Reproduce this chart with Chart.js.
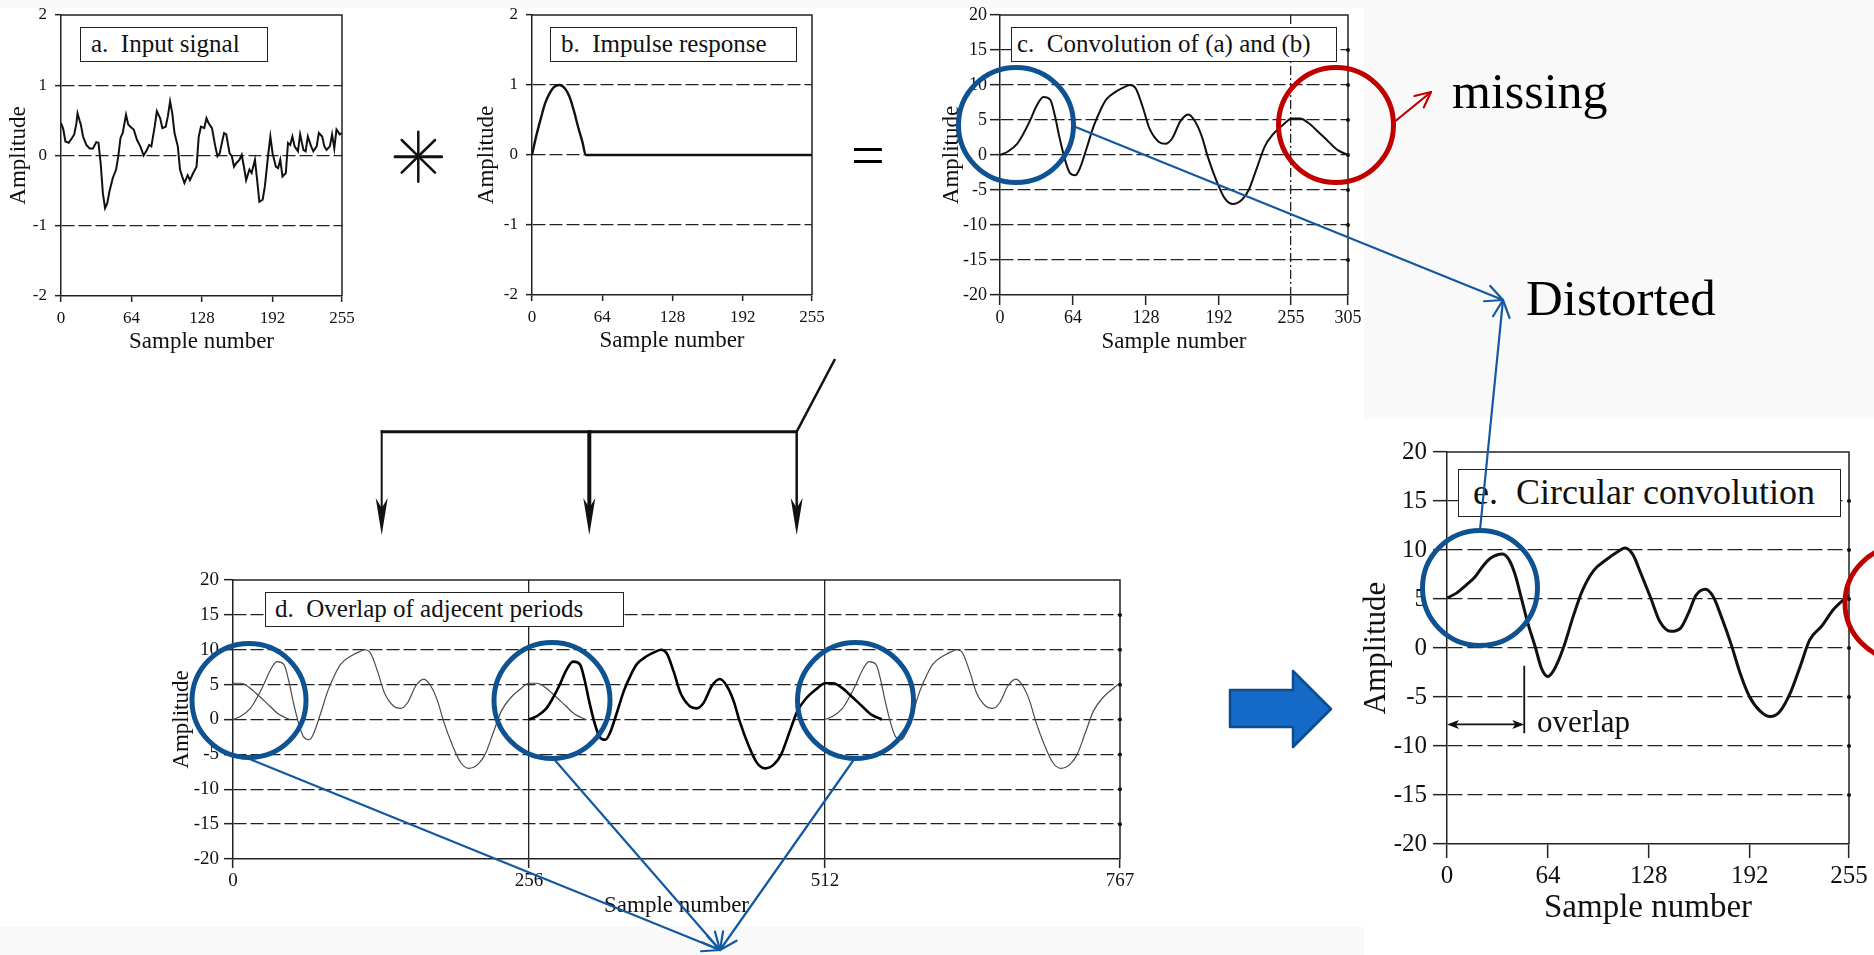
<!DOCTYPE html>
<html lang="en">
<head>
    <meta charset="UTF-8">
    <meta name="viewport" content="width=device-width, initial-scale=1.0">
    <title>Linear vs circular convolution</title>
    <style>
        body {
            margin: 0;
            background-color: #f9f9f9;
            font-family: "Liberation Serif", "Times New Roman", serif;
        }
        #page { position: relative; width: 1874px; height: 955px; overflow: hidden; }
        .sheet { position: absolute; background-color: #fff; }
        .panel { position: absolute; }
        .caption {
            position: absolute;
            box-sizing: border-box;
            border: 1.5px solid #222;
            background-color: #fff;
            white-space: pre;
            color: #111;
        }
        .note { position: absolute; white-space: pre; line-height: 1; color: #000; }
        #overlay { position: absolute; left: 0; top: 0; }
    </style>
    <script src="https://cdn.jsdelivr.net/npm/chart.js"></script>
</head>
<body>

<div id="page">
    <!-- white paper behind the figure and behind panel e -->
    <div class="sheet" style="left:0; top:8px; width:1364px; height:919px"></div>
    <div class="sheet" style="left:1364px; top:418px; width:510px; height:537px"></div>

    <div id="charts"></div>

    <!-- panel captions -->
    <div class="caption" style="left:80px; top:27px; width:188px; height:35px; line-height:32px; font-size:25px; padding-left:10px">a.  Input signal</div>
    <div class="caption" style="left:550px; top:27px; width:247px; height:35px; line-height:32px; font-size:25px; padding-left:10px">b.  Impulse response</div>
    <div class="caption" style="left:1011px; top:27px; width:326px; height:35px; line-height:32px; font-size:25px; padding-left:5px">c.  Convolution of (a) and (b)</div>
    <div class="caption" style="left:265px; top:592px; width:359px; height:35px; line-height:32px; font-size:25px; padding-left:9px">d.  Overlap of adjecent periods</div>
    <div class="caption" style="left:1458px; top:469px; width:383px; height:48px; line-height:45px; font-size:36px; padding-left:14px">e.  Circular convolution</div>

    <!-- free text -->
    <div class="note" style="left:851px; top:125px; font-size:60px">=</div>
    <div class="note" style="left:1452px; top:66px; font-size:50px">missing</div>
    <div class="note" style="left:1526px; top:273px; font-size:51px">Distorted</div>
    <div class="note" style="left:1537px; top:706px; font-size:31px; color:#111">overlap</div>

    <canvas id="overlay" width="1874" height="955"></canvas>
</div>

<script>
    // ---- values ----

    // a. input signal
    const inputX = [0, 2, 4, 7, 10, 12, 14, 15, 17, 18, 20, 23, 26, 29, 32, 34, 36, 38, 40, 42,
        44, 47, 50, 52, 54, 56, 59, 61, 63, 66, 69, 72, 75, 78, 80, 82, 85, 87, 90, 92,
        95, 97, 99, 101, 103, 106, 108, 110, 112, 115, 117, 120, 123, 125, 127, 130, 132, 134, 137, 140,
        142, 144, 146, 148, 150, 153, 155, 157, 159, 162, 164, 166, 168, 171, 173, 176, 178, 180, 183, 185,
        188, 190, 192, 195, 197, 199, 201, 204, 206, 208, 210, 212, 215, 217, 220, 222, 224, 227, 229, 232,
        234, 237, 239, 241, 244, 246, 248, 250, 253, 255];
    const inputY = [0.46, 0.38, 0.2, 0.18, 0.25, 0.3, 0.46, 0.6, 0.49, 0.44, 0.27, 0.15, 0.1, 0.1, 0.19, 0.18, -0.11, -0.54, -0.75, -0.68,
        -0.51, -0.32, -0.2, -0.01, 0.25, 0.32, 0.58, 0.44, 0.41, 0.37, 0.22, 0.13, 0, 0.08, 0.15, 0.13, 0.41, 0.63, 0.53, 0.39,
        0.41, 0.56, 0.77, 0.6, 0.32, 0.13, -0.2, -0.3, -0.39, -0.28, -0.35, -0.25, -0.16, 0.27, 0.41, 0.39, 0.53, 0.46, 0.39, 0.13,
        -0.01, 0.03, 0.18, 0.32, 0.3, 0.03, -0.01, -0.16, -0.11, -0.06, 0.01, -0.16, -0.35, -0.2, -0.25, -0.06, -0.35, -0.66, -0.63, -0.44,
        0.01, 0.27, 0.03, -0.16, -0.18, -0.06, -0.3, -0.25, 0.18, 0.15, 0.27, 0.13, 0.06, 0.3, 0.08, 0.06, 0.27, 0.13, 0.06, 0.13,
        0.32, 0.27, 0.13, 0.08, 0.13, 0.3, 0.1, 0.37, 0.3, 0.32];

    // b. impulse response
    const impulseX = [0, 4, 8, 12, 16, 20, 25, 30, 34, 38, 42, 46, 49, 255];
    const impulseY = [0, 0.28, 0.52, 0.74, 0.88, 0.97, 1.0, 0.95, 0.84, 0.64, 0.4, 0.18, 0, 0];

    // c. linear convolution (306 samples)
    const convX = [0, 7, 15, 20, 26, 32, 38, 44, 48, 52, 57, 61, 66, 70, 76, 82, 88, 93, 102, 109,
        114, 119, 125, 131, 139, 145, 151, 158, 165, 171, 177, 182, 190, 197, 204, 212, 218, 225, 232, 239,
        248, 256, 263, 270, 279, 288, 296, 305];
    const convY = [0, 0.5, 1.6, 2.9, 4.8, 7.0, 8.3, 7.9, 5.7, 2.6, -0.7, -2.5, -2.9, -1.9, 1.0, 4.1, 6.4, 7.9, 9.1, 9.7,
        10.0, 9.5, 6.9, 3.8, 1.9, 1.6, 2.4, 4.8, 5.8, 4.8, 2.6, -0.2, -3.8, -6.2, -7.0, -6.4, -5.0, -1.9, 1.2, 2.9,
        4.3, 5.2, 5.2, 4.6, 3.3, 1.9, 0.7, 0];

    // d. where the periods of (c) start; the one at 256 is drawn heavy
    const periodStarts = [-256, 0, 256, 512];
    const boldPeriod = 256;

    // e. circular convolution
    const circX = [0, 6, 12, 18, 23, 28, 35, 39, 43, 47, 51, 56, 60, 64, 68, 74, 80, 86, 93, 101,
        108, 113, 118, 123, 129, 135, 142, 148, 153, 158, 164, 169, 174, 180, 186, 192, 199, 205, 211, 218,
        224, 230, 238, 245, 255];
    const circY = [5.1, 5.6, 6.4, 7.3, 8.4, 9.2, 9.6, 9.1, 7.6, 5.2, 2.7, 0.1, -2.1, -2.9, -2.2, 0.1, 3.2, 5.9, 7.9, 9.0,
        9.8, 10.2, 9.5, 7.6, 5.2, 2.7, 1.7, 2.0, 3.5, 5.4, 6.0, 5.2, 3.2, 0.5, -2.6, -5.0, -6.5, -7.0, -6.5, -4.5,
        -1.9, 0.8, 2.3, 3.9, 5.4];

    // tick labels
    const ticks256 = [0, 64, 128, 192, 255];
    const ticksConv = [0, 64, 128, 192, 255, 305];
    const ticksPeriods = [0, 256, 512, 767];
    const convEndMark = [255];        // dash-dot line in (c)
    const periodMarks = [256, 512];   // solid lines in (d)

    // overlap bracket in (e), in data units
    const overlapSpan = [0, 49];
    const overlapArrowY = -7.8;
    const overlapTickY = [-1.8, -8.7];

    // ---- layout of each panel (page pixels of the plot area) ----
    const geo = {
        a: { left: 61, right: 342, top: 15, bottom: 296, yW: 56, xH: 60, padTop: 15, padRight: 18, tick: 6, yPad: 8, xPad: 6, tickFont: 17, xTitle: 23, yTitle: 23, dash: [13, 4] },
        b: { left: 532, right: 812, top: 15, bottom: 295, yW: 59, xH: 60, padTop: 15, padRight: 18, tick: 6, yPad: 8, xPad: 6, tickFont: 17, xTitle: 23, yTitle: 23, dash: [13, 4] },
        c: { left: 1000, right: 1348, top: 15, bottom: 295, yW: 62, xH: 61, padTop: 15, padRight: 18, tick: 10, yPad: 3, xPad: 2, tickFont: 18, xTitle: 23, yTitle: 23, dash: [13, 4], dots: true, xLines: convEndMark, xDash: [9, 3, 2, 3] },
        d: { left: 233, right: 1120, top: 580, bottom: 859, yW: 65, xH: 61, padTop: 15, padRight: 18, tick: 9, yPad: 5, xPad: 2, tickFont: 19, xTitle: 23, yTitle: 23, dash: [13, 4], dots: true, xLines: periodMarks },
        e: { left: 1447, right: 1849, top: 452, bottom: 844, yW: 89, xH: 84, padTop: 17, padRight: 24, tick: 14, yPad: 6, xPad: 3, tickFont: 25, xTitle: 33, yTitle: 31, dash: [15, 5], dots: true, overlap: true }
    };

    const serif = "'Liberation Serif', 'Times New Roman', serif";
    const ink = '#111';
    Chart.defaults.font.family = serif;
    Chart.defaults.color = ink;

    // top and right frame of each plot, with the small dots where grid lines end
    Chart.register({
        id: 'frame',
        afterDraw(chart, args, opts) {
            const { ctx, chartArea: a } = chart;
            ctx.save();
            ctx.strokeStyle = '#222';
            ctx.lineWidth = 1.5;
            ctx.beginPath();
            ctx.moveTo(a.left, a.top);
            ctx.lineTo(a.right, a.top);
            ctx.lineTo(a.right, a.bottom);
            ctx.stroke();
            if (opts.dots) {
                const y = chart.scales.y;
                ctx.fillStyle = '#111';
                y.ticks.forEach(t => {
                    if (t.value === y.min || t.value === y.max) return;
                    ctx.beginPath();
                    ctx.arc(a.right, y.getPixelForValue(t.value), 2, 0, Math.PI * 2);
                    ctx.fill();
                });
            }
            ctx.restore();
        }
    });

    // overlap bracket of panel e
    Chart.register({
        id: 'overlapMark',
        afterDatasetsDraw(chart, args, opts) {
            if (!opts.show) return;
            const { ctx } = chart;
            const x = chart.scales.x, y = chart.scales.y;
            const x0 = x.getPixelForValue(overlapSpan[0]);
            const x1 = x.getPixelForValue(overlapSpan[1]);
            const ya = y.getPixelForValue(overlapArrowY);
            ctx.save();
            ctx.strokeStyle = '#111';
            ctx.fillStyle = '#111';
            ctx.lineWidth = 1.8;
            ctx.beginPath();
            ctx.moveTo(x0 + 4, ya);
            ctx.lineTo(x1 - 4, ya);
            ctx.moveTo(x1, y.getPixelForValue(overlapTickY[0]));
            ctx.lineTo(x1, y.getPixelForValue(overlapTickY[1]));
            ctx.stroke();
            [[x0, 1], [x1, -1]].forEach(([px, dir]) => {
                ctx.beginPath();
                ctx.moveTo(px, ya);
                ctx.lineTo(px + dir * 12, ya - 4.5);
                ctx.lineTo(px + dir * 9, ya);
                ctx.lineTo(px + dir * 12, ya + 4.5);
                ctx.closePath();
                ctx.fill();
            });
            ctx.restore();
        }
    });

    function points(xs, ys, shift) {
        return xs.map((x, i) => ({ x: x + (shift || 0), y: ys[i] }));
    }

    function makePanel(key, datasets, xTicks, yMin, yMax, yStep) {
        const g = geo[key];
        const canvas = document.createElement('canvas');
        canvas.className = 'panel';
        canvas.width = g.yW + (g.right - g.left) + g.padRight;
        canvas.height = g.padTop + (g.bottom - g.top) + g.xH;
        canvas.style.left = (g.left - g.yW) + 'px';
        canvas.style.top = (g.top - g.padTop) + 'px';
        document.getElementById('charts').appendChild(canvas);

        return new Chart(canvas, {
            type: 'line',
            data: { datasets },
            options: {
                responsive: false,
                animation: false,
                events: [],
                layout: { padding: { top: g.padTop, right: g.padRight, left: 0, bottom: 0 } },
                elements: { point: { radius: 0 } },
                plugins: {
                    legend: { display: false },
                    tooltip: { enabled: false },
                    frame: { dots: !!g.dots },
                    overlapMark: { show: !!g.overlap }
                },
                scales: {
                    x: {
                        type: 'linear',
                        min: xTicks[0],
                        max: xTicks[xTicks.length - 1],
                        afterBuildTicks: s => { s.ticks = xTicks.map(v => ({ value: v })); },
                        afterFit: s => {
                            s.height = g.xH;
                            s.paddingLeft = 0;
                            s.paddingRight = 0;
                        },
                        grid: {
                            drawOnChartArea: !!g.xLines,
                            color: c => (g.xLines && c.tick && g.xLines.includes(c.tick.value)) ? '#222' : 'rgba(0,0,0,0)',
                            lineWidth: 1.3,
                            tickColor: '#222',
                            tickLength: g.tick,
                            tickWidth: 1.5
                        },
                        border: { color: '#222', width: 1.5, dash: g.xDash || [] },
                        ticks: {
                            autoSkip: false,
                            maxRotation: 0,
                            padding: g.xPad,
                            color: ink,
                            font: { family: serif, size: g.tickFont },
                            callback: v => String(v)
                        },
                        title: {
                            display: true,
                            text: 'Sample number',
                            color: ink,
                            padding: 0,
                            font: { family: serif, size: g.xTitle }
                        }
                    },
                    y: {
                        type: 'linear',
                        min: yMin,
                        max: yMax,
                        afterFit: s => {
                            s.width = g.yW;
                            s.paddingTop = 0;
                            s.paddingBottom = 0;
                        },
                        grid: {
                            color: c => (c.tick && (c.tick.value === yMin || c.tick.value === yMax)) ? 'rgba(0,0,0,0)' : '#222',
                            lineWidth: 1.3,
                            tickColor: '#222',
                            tickLength: g.tick,
                            tickWidth: 1.5
                        },
                        border: { color: '#222', width: 1.5, dash: g.dash },
                        ticks: {
                            stepSize: yStep,
                            padding: g.yPad,
                            color: ink,
                            font: { family: serif, size: g.tickFont },
                            callback: v => String(v)
                        },
                        title: {
                            display: true,
                            text: 'Amplitude',
                            color: ink,
                            padding: 0,
                            font: { family: serif, size: g.yTitle }
                        }
                    }
                }
            }
        });
    }

    makePanel('a', [{
        data: points(inputX, inputY),
        borderColor: '#111', borderWidth: 2, tension: 0
    }], ticks256, -2, 2, 1);

    makePanel('b', [{
        data: points(impulseX, impulseY),
        borderColor: '#111', borderWidth: 2.4, cubicInterpolationMode: 'monotone'
    }], ticks256, -2, 2, 1);

    makePanel('c', [{
        data: points(convX, convY),
        borderColor: '#111', borderWidth: 2, cubicInterpolationMode: 'monotone'
    }], ticksConv, -20, 20, 5);

    makePanel('d', periodStarts.map(s => ({
        data: points(convX, convY, s),
        borderColor: s === boldPeriod ? '#000' : '#4a4a4a',
        borderWidth: s === boldPeriod ? 2.6 : 1.2,
        order: s === boldPeriod ? 0 : 1,
        cubicInterpolationMode: 'monotone'
    })), ticksPeriods, -20, 20, 5);

    makePanel('e', [{
        data: points(circX, circY),
        borderColor: '#111', borderWidth: 3, cubicInterpolationMode: 'monotone'
    }], ticks256, -20, 20, 5);

    // ---- annotation layer: circles, connectors and arrows ----
    const ov = document.getElementById('overlay').getContext('2d');
    ov.lineCap = 'round';
    ov.lineJoin = 'round';

    const blueRing = '#0f5291';
    const blueLine = '#13599f';
    const red = '#c00000';

    function seg(x1, y1, x2, y2, color, width) {
        ov.strokeStyle = color;
        ov.lineWidth = width;
        ov.beginPath();
        ov.moveTo(x1, y1);
        ov.lineTo(x2, y2);
        ov.stroke();
    }

    function chevron(x1, y1, x2, y2, color, width, len, spread) {
        const a = Math.atan2(y2 - y1, x2 - x1);
        ov.strokeStyle = color;
        ov.lineWidth = width;
        ov.beginPath();
        ov.moveTo(x2 - len * Math.cos(a - spread), y2 - len * Math.sin(a - spread));
        ov.lineTo(x2, y2);
        ov.lineTo(x2 - len * Math.cos(a + spread), y2 - len * Math.sin(a + spread));
        ov.stroke();
    }

    function arrow(x1, y1, x2, y2, color, width, len) {
        seg(x1, y1, x2, y2, color, width);
        chevron(x1, y1, x2, y2, color, width, len, 0.45);
    }

    function ring(cx, cy, r, color) {
        ov.strokeStyle = color;
        ov.lineWidth = 5;
        ov.beginPath();
        ov.arc(cx, cy, r, 0, Math.PI * 2);
        ov.stroke();
    }

    // convolution operator between a and b
    seg(395, 156.7, 441.7, 156.7, '#111', 3);
    seg(418.3, 131.7, 418.3, 181.7, '#111', 2.5);
    seg(401.7, 140, 435, 172.7, '#111', 2.5);
    seg(435, 140, 401.7, 172.7, '#111', 2.5);

    // branching arrows from c down to d
    ov.lineCap = 'butt';
    seg(835, 359, 796.7, 431.7, '#111', 2.5);
    seg(380.7, 431.7, 797.7, 431.7, '#111', 3);
    [[381.7, 2], [589.3, 4], [796.7, 2.5]].forEach(([x, w]) => {
        seg(x, 430.2, x, 512, '#111', w);
        ov.fillStyle = '#111';
        ov.beginPath();
        ov.moveTo(x, 535);
        ov.lineTo(x - 6, 498);
        ov.lineTo(x, 508);
        ov.lineTo(x + 6, 498);
        ov.closePath();
        ov.fill();
    });
    ov.lineCap = 'round';

    // block arrow from d to e
    ov.beginPath();
    ov.moveTo(1230, 690);
    ov.lineTo(1293, 690);
    ov.lineTo(1293, 671);
    ov.lineTo(1331, 709);
    ov.lineTo(1293, 747);
    ov.lineTo(1293, 727);
    ov.lineTo(1230, 727);
    ov.closePath();
    ov.fillStyle = '#1569c7';
    ov.fill();
    ov.strokeStyle = '#0d4c8f';
    ov.lineWidth = 2.5;
    ov.stroke();

    // connectors
    arrow(1073, 126, 1503, 300, blueLine, 2.2, 19);
    arrow(1480, 530, 1503, 300, blueLine, 2.2, 19);
    arrow(247, 758, 720, 950, blueLine, 2.2, 19);
    arrow(553, 758, 720, 950, blueLine, 2.2, 19);
    arrow(855, 758, 720, 950, blueLine, 2.2, 19);
    arrow(1393, 123, 1431, 92, red, 2.2, 17);

    // highlight circles
    ring(1016, 125, 57.5, blueRing);
    ring(249, 700.5, 57, blueRing);
    ring(552, 700.5, 58, blueRing);
    ring(855.5, 700.5, 58, blueRing);
    ring(1480, 588, 57.5, blueRing);
    ring(1336, 125, 57.5, red);
    ring(1902, 603, 57, red);
</script>

</body>
</html>
